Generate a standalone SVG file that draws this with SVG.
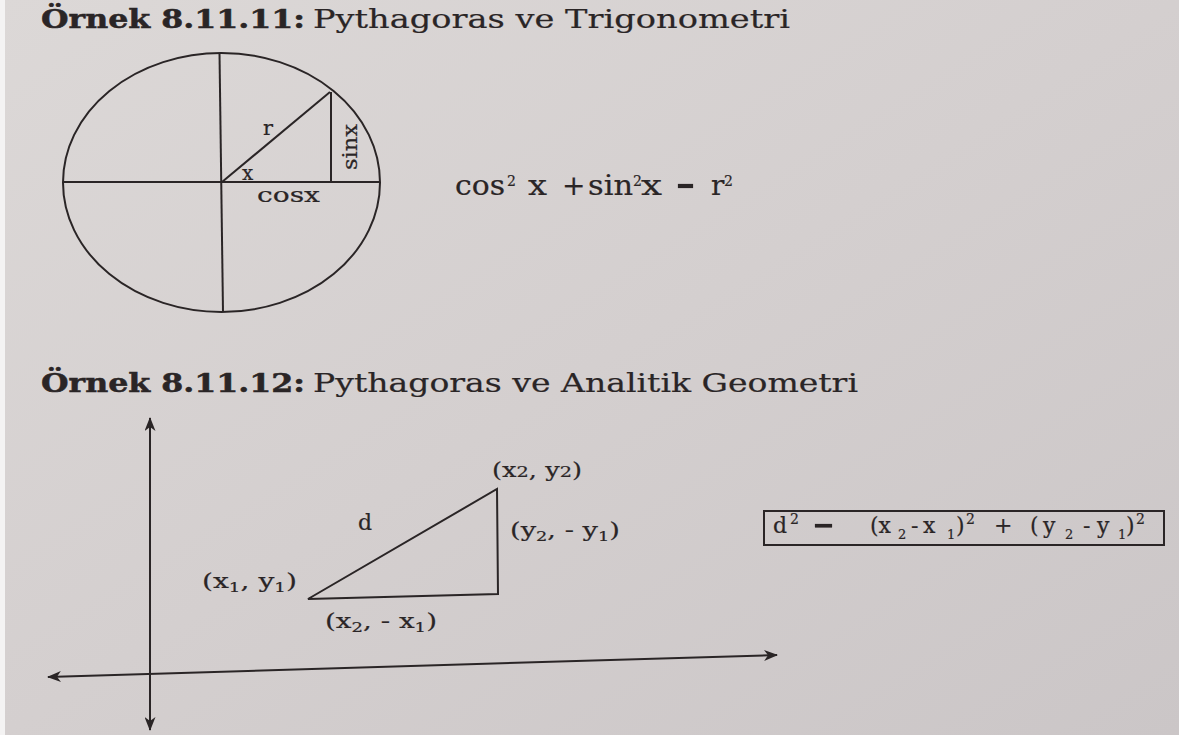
<svg xmlns="http://www.w3.org/2000/svg" width="1179" height="735" viewBox="0 0 1179 735">
<defs>
<linearGradient id="bg" x1="0" y1="0" x2="1" y2="1">
<stop offset="0" stop-color="#dcd8d7"/>
<stop offset="0.5" stop-color="#d4cfcf"/>
<stop offset="1" stop-color="#cbc6c7"/>
</linearGradient>
<marker id="ah" viewBox="0 0 14 11" refX="13" refY="5.5" markerWidth="14" markerHeight="11" markerUnits="userSpaceOnUse" orient="auto-start-reverse">
<path d="M0,0 L14,5.5 L0,11 L4,5.5 Z" fill="#2a2526"/>
</marker>
<style>
.t{font-family:"DejaVu Serif","Liberation Serif",serif;fill:#2a2526;stroke:#2a2526;stroke-width:0.2}
.b{font-weight:bold;stroke-width:0.5}
.ln{stroke:#2a2526;stroke-width:2;fill:none}
.sup{font-size:14px}
.sub{font-size:13px}
</style>
</defs>
<rect width="1179" height="735" fill="url(#bg)"/>
<rect x="0" y="0" width="5" height="735" fill="#f4f3f3"/>

<g id="title1">
<text class="t b" x="41" y="28" font-size="26" textLength="264" lengthAdjust="spacingAndGlyphs">Örnek 8.11.11:</text>
<text class="t" x="313" y="28" font-size="26" textLength="477" lengthAdjust="spacingAndGlyphs">Pythagoras ve Trigonometri</text>
</g>

<g id="circle">
<ellipse class="ln" cx="221.5" cy="182.5" rx="158.5" ry="129.5"/>
<line class="ln" x1="63" y1="182" x2="380" y2="182"/>
<line class="ln" x1="219.5" y1="53" x2="223" y2="312"/>
<line class="ln" x1="222" y1="182" x2="330" y2="92"/>
<line class="ln" x1="331" y1="92" x2="331" y2="182"/>
<text class="t" x="263" y="135" font-size="21">r</text>
<text class="t" x="242" y="180" font-size="20">x</text>
<text class="t" transform="translate(357,170) rotate(-90)" font-size="20" textLength="46" lengthAdjust="spacingAndGlyphs">sinx</text>
<text class="t" x="257" y="202" font-size="20" textLength="63" lengthAdjust="spacingAndGlyphs">cosx</text>
</g>

<g id="formula1" class="t" font-size="28">
<text class="t" x="455" y="195" textLength="50" lengthAdjust="spacingAndGlyphs">cos</text>
<text class="t sup" x="507" y="186">2</text>
<text class="t" x="528" y="195" textLength="19" lengthAdjust="spacingAndGlyphs">x</text>
<text class="t" x="562" y="195">+</text>
<text class="t" x="588" y="195" textLength="45" lengthAdjust="spacingAndGlyphs">sin</text>
<text class="t sup" x="633" y="186">2</text>
<text class="t" x="641" y="195" textLength="21" lengthAdjust="spacingAndGlyphs">x</text>
<rect x="678" y="184" width="15" height="4" fill="#2a2526"/>
<text class="t" x="711" y="195">r</text>
<text class="t sup" x="724" y="186">2</text>
</g>

<g id="title2">
<text class="t b" x="41" y="392" font-size="26" textLength="264" lengthAdjust="spacingAndGlyphs">Örnek 8.11.12:</text>
<text class="t" x="313" y="392" font-size="26" textLength="545" lengthAdjust="spacingAndGlyphs">Pythagoras ve Analitik Geometri</text>
</g>

<g id="connectors">
<line class="ln" x1="150" y1="418" x2="150" y2="730" marker-start="url(#ah)" marker-end="url(#ah)"/>
<line class="ln" x1="48" y1="677" x2="777" y2="655" marker-start="url(#ah)" marker-end="url(#ah)"/>
</g>

<g id="triangle">
<path class="ln" stroke-width="2.5" d="M308,599 L497,489 L498,594 Z"/>
<text class="t" x="492" y="477" font-size="20" textLength="90" lengthAdjust="spacingAndGlyphs">(x<tspan font-size="15">2</tspan>, y<tspan font-size="15">2</tspan>)</text>
<text class="t" x="358" y="530" font-size="22">d</text>
<text class="t" x="510" y="537" font-size="20" textLength="110" lengthAdjust="spacingAndGlyphs">(y<tspan class="sub" dy="4">2</tspan><tspan dy="-4">, - y</tspan><tspan class="sub" dy="4">1</tspan><tspan dy="-4">)</tspan></text>
<text class="t" x="202" y="588" font-size="20" textLength="95" lengthAdjust="spacingAndGlyphs">(x<tspan class="sub" dy="4">1</tspan><tspan dy="-4">, y</tspan><tspan class="sub" dy="4">1</tspan><tspan dy="-4">)</tspan></text>
<text class="t" x="325" y="628" font-size="20" textLength="112" lengthAdjust="spacingAndGlyphs">(x<tspan class="sub" dy="4">2</tspan><tspan dy="-4">, - x</tspan><tspan class="sub" dy="4">1</tspan><tspan dy="-4">)</tspan></text>
</g>

<g id="formula2">
<rect class="ln" x="764" y="511" width="400" height="34" stroke-width="2.8"/>
<g class="t" font-size="22">
<text class="t" x="773" y="533">d</text>
<text class="t sup" x="790" y="524">2</text>
<rect x="815" y="524" width="17" height="3.5" fill="#2a2526"/>
<text class="t" x="870" y="533">(x</text>
<text class="t sub" x="898" y="539">2</text>
<text class="t" x="911" y="533">-</text>
<text class="t" x="923" y="533">x</text>
<text class="t sub" x="947" y="539">1</text>
<text class="t" x="956" y="533">)</text>
<text class="t sup" x="966" y="524">2</text>
<text class="t" x="994" y="533">+</text>
<text class="t" x="1030" y="533">(</text>
<text class="t" x="1043" y="533">y</text>
<text class="t sub" x="1065" y="539">2</text>
<text class="t" x="1083" y="533">-</text>
<text class="t" x="1097" y="533">y</text>
<text class="t sub" x="1118" y="539">1</text>
<text class="t" x="1126" y="533">)</text>
<text class="t sup" x="1136" y="524">2</text>
</g>
</g>
</svg>
